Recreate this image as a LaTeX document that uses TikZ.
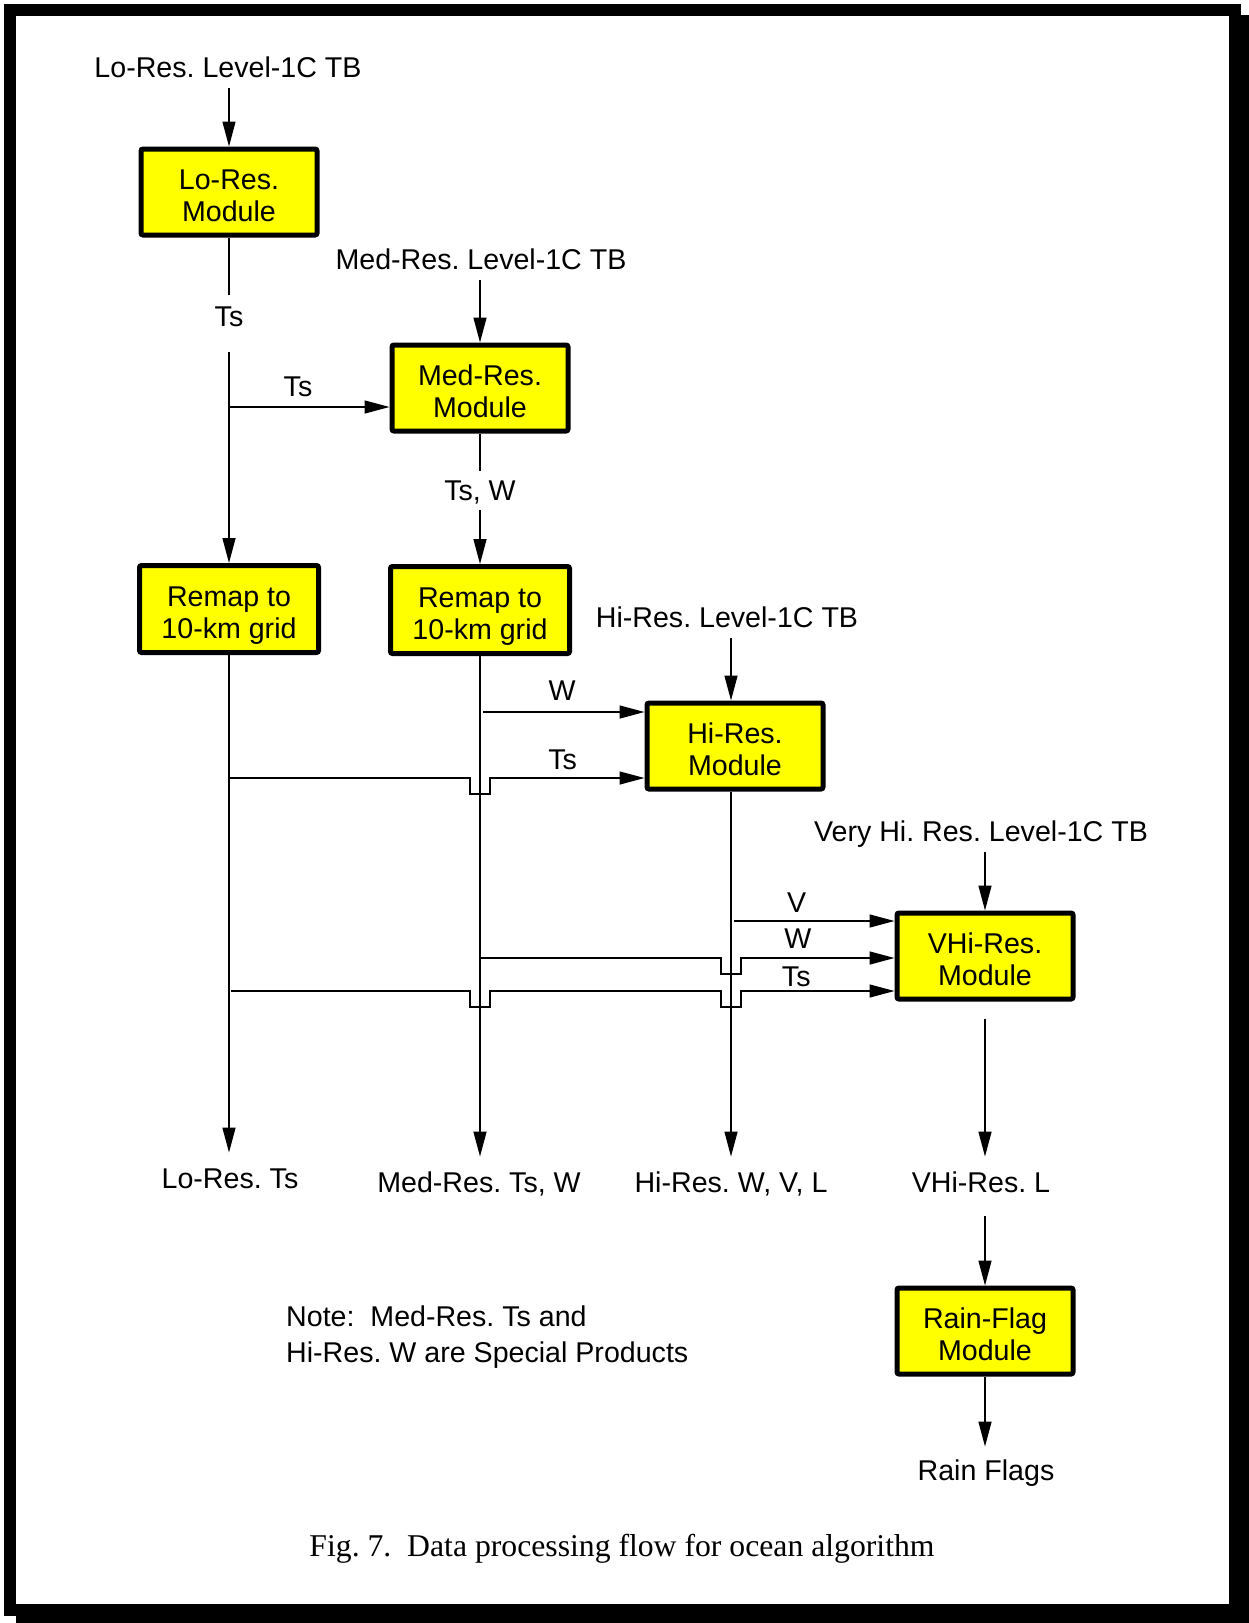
\documentclass[tikz,border=0pt]{standalone}
\usepackage{fontspec}
\setmainfont{Liberation Sans}
\newfontfamily\figfont{Liberation Serif}
\usetikzlibrary{arrows.meta,calc}
\definecolor{moduleyellow}{RGB}{255, 255, 0}
\frenchspacing

\tikzset{
  module/.style={draw, line width=5pt, rounded corners=2pt, fill=moduleyellow,
    minimum width=176pt, minimum height=86pt, inner sep=0pt, align=center,
    execute at begin node={\rule{0pt}{59pt}}},
  remap/.style={module, minimum width=179pt, minimum height=87pt,
    execute at begin node={\rule{0pt}{65pt}}},
  tag/.style={inner sep=0pt, text height=20.5pt, text depth=0pt},
  flow/.style={line width=1.4pt},
  feed/.style={flow, ->, shorten <=11pt},
  hop/.style={insert path={-- ++(0,16) -- ++(20,0) -- ++(0,-16)}},
}

\begin{document}
\begin{tikzpicture}[x=1pt, y=-1pt, >={Triangle[length=25pt, width=13pt]},
    font=\fontsize{28.6}{32}\selectfont]
    \useasboundingbox (0,0) rectangle (1249,1623);
    % frame with its shadow
    \fill (16,15) rectangle (1249,1623);
    \fill (4,4) rectangle (1241,1616);
    \fill[white] (16,16) rectangle (1229,1604);

    % modules
    \node[module] (lo) at (229,192) {Lo-Res.\\Module};
    \node[module] (med) at (480,388) {Med-Res.\\Module};
    \node[remap] (remaplo) at (229,609) {Remap to\\10-km grid};
    \node[remap] (remapmed) at (480,610) {Remap to\\10-km grid};
    \node[module] (hi) at (735,746) {Hi-Res.\\Module};
    \node[module] (vhi) at (985,956) {VHi-Res.\\Module};
    \node[module] (rain) at (985,1331) {Rain-Flag\\Module};
    \coordinate (hicol) at (731,746);

    % level-1C inputs
    \node[tag] (lotb) at (228,67) {Lo-Res. Level-1C TB};
    \node[tag] (medtb) at (481,259) {Med-Res. Level-1C TB};
    \node[tag] (hitb) at (727,617) {Hi-Res. Level-1C TB};
    \node[tag] (vhitb) at (981,831) {Very Hi. Res. Level-1C TB};
    \draw[feed] (lotb.south -| lo) -- (lo);
    \draw[feed] (medtb.south -| med) -- (med);
    \draw[feed] (hitb.south -| hicol) -- (hi.north -| hicol);
    \draw[feed] (vhitb.south -| vhi) -- (vhi);

    % down the Lo-Res. and Med-Res. columns
    \node[tag] (tslo) at (229,316) {Ts};
    \node[tag] (tswmed) at (480,490) {Ts, W};
    \draw[flow, shorten >=11pt] (lo) -- (tslo);
    \draw[flow, ->, shorten <=26pt] (tslo) -- (remaplo);
    \draw[flow, shorten >=9pt] (med) -- (tswmed);
    \draw[flow, ->, shorten <=10pt] (tswmed) -- (remapmed);

    % products
    \node[tag] (loout) at (230,1178) {Lo-Res. Ts};
    \node[tag] (medout) at (479,1182) {Med-Res. Ts, W};
    \node[tag] (hiout) at (731,1182) {Hi-Res. W, V, L};
    \node[tag] (vhiout) at (981,1182) {VHi-Res. L};
    \node[tag] (flags) at (986,1470) {Rain Flags};
    \draw[flow, ->, shorten >=15pt] (remaplo) -- (remaplo |- loout.north);
    \draw[flow, ->, shorten >=15pt] (remapmed) -- (remapmed |- medout.north);
    \draw[flow, ->, shorten >=15pt] (hi.south -| hicol) -- (hicol |- hiout.north);
    \draw[flow, ->, shorten <=17pt, shorten >=15pt] (vhi) -- (vhi |- vhiout.north);
    \draw[flow, ->, shorten <=24pt] (vhiout.south -| rain) -- (rain);
    \draw[flow, ->, shorten >=13pt] (rain) -- (rain |- flags.north);

    % cross feeds
    \coordinate (lots) at (229,407);
    \draw[flow, ->] (lots) -- (lots -| med.west)
      node[tag, pos=0.43, above=10pt] {Ts};
    \coordinate (medw) at (483,712);
    \draw[flow, ->] (medw) -- (medw -| hi.west)
      node[tag, pos=0.49, above=11pt] {W};
    \coordinate (lotshi) at (229,778);
    \draw[flow, ->] (lotshi) -- ($(lotshi -| remapmed)+(-10,0)$) [hop]
      -- (lotshi -| hi.west) node[tag, pos=0.47, above=8pt] {Ts};
    \coordinate (hiv) at (734,921);
    \draw[flow, ->] (hiv) -- (hiv -| vhi.west)
      node[tag, pos=0.39, above=8pt] {V};
    \coordinate (medwv) at (480,958);
    \draw[flow, ->] (medwv) -- ($(medwv -| hicol)+(-10,0)$) [hop]
      -- (medwv -| vhi.west) node[tag, pos=0.37, above=9pt] {W};
    \coordinate (lotsv) at (231,991);
    \draw[flow, ->] (lotsv) -- ($(lotsv -| remapmed)+(-10,0)$) [hop]
      -- ($(lotsv -| hicol)+(-10,0)$) [hop]
      -- (lotsv -| vhi.west) node[tag, pos=0.36, above=4pt] {Ts};

    % note and caption
    \node[anchor=north west, align=left, inner sep=0pt,
      font=\fontsize{28.6}{36}\selectfont] (note) at (286,1306)
      {Note:\ \ Med-Res. Ts and\\Hi-Res. W are Special Products};
    \node[inner sep=0pt, text height=21pt, text depth=0pt,
      font=\figfont\fontsize{31.7}{38}\selectfont] (caption) at (622,1546)
      {Fig. 7.\ \ Data processing flow for ocean algorithm};
\end{tikzpicture}
\end{document}
